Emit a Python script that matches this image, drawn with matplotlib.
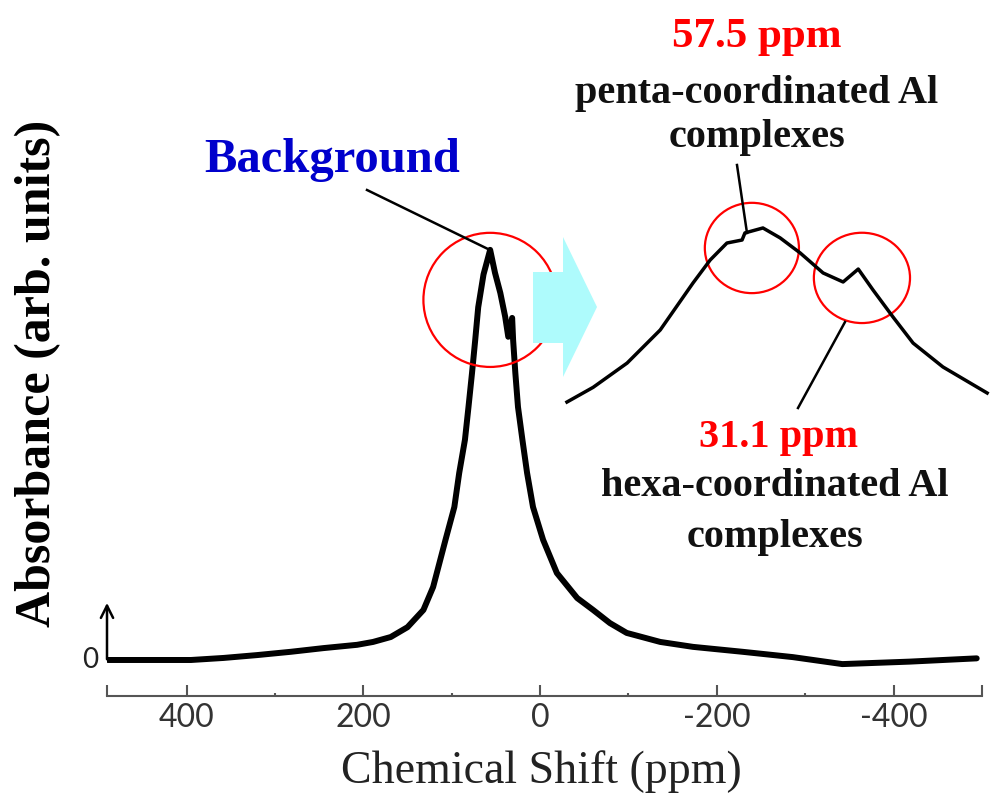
import matplotlib
matplotlib.use("Agg")
import matplotlib.pyplot as plt
from matplotlib.patches import Ellipse, Polygon

# main 27Al spectrum (ppm, normalised intensity)
main_ppm = [489, 440, 395, 358, 320, 282, 245, 207, 189, 169, 150, 132, 121, 107, 97, 91.5, 85,
            81, 77, 73.4, 70, 64, 56.5, 51, 45, 39.5, 36, 31.6, 30.5, 28, 25, 20, 14.7, 8,
            -3.4, -19, -42, -60, -79, -98, -136, -173, -229, -286, -342, -418, -494]
main_int = [0.0, 0.0, 0.0, 0.005, 0.012, 0.02, 0.029, 0.037, 0.044, 0.056, 0.08, 0.122, 0.178,
            0.293, 0.373, 0.456, 0.537, 0.617, 0.70, 0.78, 0.86, 0.94, 1.0, 0.944, 0.895,
            0.837, 0.788, 0.834, 0.78, 0.70, 0.617, 0.537, 0.456, 0.373, 0.293, 0.212,
            0.151, 0.122, 0.09, 0.066, 0.044, 0.032, 0.02, 0.007, -0.010, -0.004, 0.004]

# zoomed top of the peak (inset)
zoom_ppm = [100.3, 93.9, 85.6, 77.5, 69.5, 65.3, 61.2, 57.5, 56.8, 52.4, 48.2, 43.3, 37.7,
            32.8, 29.1, 25.5, 20.6, 15.7, 8.4, -2.4]
zoom_int = [0.017, 0.10, 0.237, 0.424, 0.689, 0.819, 0.915, 0.932, 0.972, 1.0, 0.944, 0.859,
            0.746, 0.695, 0.768, 0.65, 0.497, 0.35, 0.215, 0.068]

tick_pos = [490, 400, 300, 200, 100, 0, -100, -200, -300, -400, -500]
tick_lab = ['', '400', '', '200', '', '0', '', '-200', '', '-400', '']
minor_pos = [300, 100, -100, -300]

peaks = [57.5, 31.1]

W, H = 990, 807
fig = plt.figure(figsize=(W / 100, H / 100), dpi=100)

def box(x0, y0, x1, y1):
    # pixel box (top-left origin) -> figure fraction
    return [x0 / W, 1 - y1 / H, (x1 - x0) / W, (y1 - y0) / H]

# ---- main axes
ax = fig.add_axes(box(107, 240, 982, 696))
ax.plot(main_ppm, main_int, color='black', lw=4.3, solid_joinstyle='round',
        solid_capstyle='round')
ax.set_xlim(490, -500)
ax.set_ylim(-0.0878, 1.024)
for s in ['top', 'right', 'left']:
    ax.spines[s].set_visible(False)
ax.spines['bottom'].set_color('#555555')
ax.spines['bottom'].set_linewidth(1.5)
ax.set_yticks([])
major = [p for p in tick_pos if p not in minor_pos]
ax.set_xticks(major)
ax.set_xticklabels([l for p, l in zip(tick_pos, tick_lab) if p not in minor_pos],
                   fontsize=23, family='Lato', color='#333333')
ax.set_xticks(minor_pos, minor=True)
ax.tick_params(axis='x', which='major', direction='in', length=8, width=1.5,
               color='#555555', pad=5)
ax.tick_params(axis='x', which='minor', direction='in', length=2, width=1.5,
               color='#555555')

# zero marker with small up arrow
ax.annotate('', xy=(490, 0.146), xytext=(490, -0.005),
            arrowprops=dict(arrowstyle='->', lw=1.8, color='black',
                            mutation_scale=22), annotation_clip=False)
ax.text(500, 0, '0', ha='right', va='center', fontsize=20, family='Lato',
        color='#222222', clip_on=False)

# circle around the main peak
ax.add_patch(Ellipse((56.5, 0.878), 151, 0.327, fill=False, ec='red', lw=1.6,
                     clip_on=False, zorder=5))

# ---- inset axes
ins = fig.add_axes(box(560, 220, 990, 410))
ins.plot(zoom_ppm, zoom_int, color='black', lw=2.5, solid_joinstyle='round')
ins.set_xlim(102.0, -3.1)
ins.set_ylim(-0.028, 1.045)
ins.axis('off')
ins.add_patch(Ellipse((55.1, 0.887), 23, 0.51, fill=False, ec='red', lw=1.6,
                      clip_on=False))
ins.add_patch(Ellipse((28.2, 0.718), 23.5, 0.51, fill=False, ec='red', lw=1.6,
                      clip_on=False))

# ---- overlay for arrow, leader lines and text (pixel coords)
deco = fig.add_axes([0, 0, 1, 1], zorder=10)
deco.set_xlim(0, W)
deco.set_ylim(H, 0)
deco.axis('off')
deco.patch.set_alpha(0)

deco.add_patch(Polygon([(533, 272), (563, 272), (563, 237), (597, 307),
                        (563, 377), (563, 343), (533, 343)],
                       closed=True, fc='#aefbfc', ec='none'))

deco.plot([367, 490], [190, 250], color='black', lw=1.8)
deco.plot([737, 747], [165, 233], color='black', lw=1.8)
deco.plot([845, 798], [322, 408], color='black', lw=1.8)

serif = 'Liberation Serif'
deco.text(332, 160, 'Background', ha='center', va='center', fontsize=35,
          family=serif, weight='bold', color='#0000cc')
deco.text(757, 37, f'{peaks[0]} ppm', ha='center', va='center', fontsize=31,
          family=serif, weight='bold', color='red')
deco.text(757, 93, 'penta-coordinated Al', ha='center', va='center', fontsize=29,
          family=serif, weight='bold', color='#111111')
deco.text(757, 137, 'complexes', ha='center', va='center', fontsize=29,
          family=serif, weight='bold', color='#111111')
deco.text(779, 437, f'{peaks[1]} ppm', ha='center', va='center', fontsize=29,
          family=serif, weight='bold', color='red')
deco.text(775, 487, 'hexa-coordinated Al', ha='center', va='center', fontsize=29,
          family=serif, weight='bold', color='#111111')
deco.text(775, 537, 'complexes', ha='center', va='center', fontsize=29,
          family=serif, weight='bold', color='#111111')

deco.text(38, 373, 'Absorbance (arb. units)', ha='center', va='center',
          rotation=90, fontsize=36, family=serif, weight='bold')
deco.text(541, 772, 'Chemical Shift (ppm)', ha='center', va='center',
          fontsize=33, family=serif, color='#222222')

fig.savefig('out.png', dpi=100)
